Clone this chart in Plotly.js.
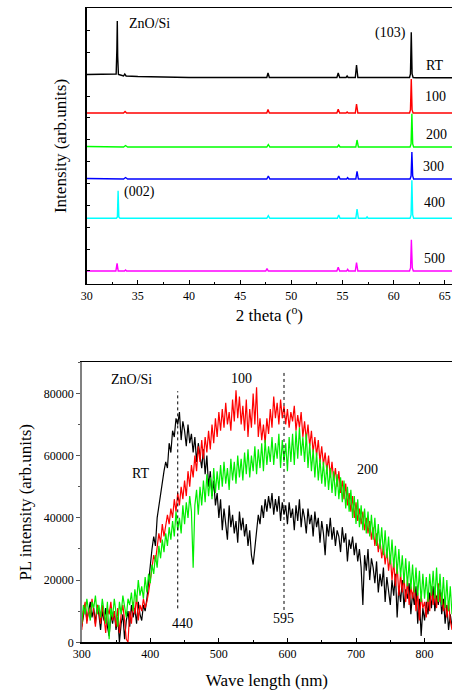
<!DOCTYPE html>
<html>
<head>
<meta charset="utf-8">
<script src="https://cdn.plot.ly/plotly-3.0.1.min.js"></script>
<style>html,body{margin:0;padding:0;background:#fff;}#chart{width:452px;height:693px;}</style>
</head>
<body>
<div id="chart"></div>
<script>
// ---------- Top panel: XRD (offset traces, arbitrary units) ----------
const xrdNames = ["RT", "100", "200", "300", "400", "500"];
const xrdColors = ["#000000", "#ff0000", "#00ff00", "#0000ff", "#00ffff", "#ff00ff"];

const xrdX_RT = [30, 32.0, 32.88, 32.95, 32.99, 33.03, 33.1, 33.3, 33.6, 33.72, 33.85, 35, 40, 47.6, 47.72, 47.85, 54.45, 54.58, 54.72, 55.35, 55.45, 55.55, 56.25, 56.37, 56.5, 61.55, 61.64, 61.72, 61.8, 61.9, 62.2, 65.7];
const xrdY_RT = [209.5, 209.5, 210, 235, 263, 228, 209.5, 209, 208, 210, 208, 207.5, 206.5, 206.5, 211, 206.5, 206.5, 211, 206.5, 206.5, 208, 206.5, 206.5, 219, 206.5, 206.5, 210, 251.7, 210, 206.5, 206.3, 206.3];

const xrdX_100 = [30, 33.6, 33.75, 33.9, 47.6, 47.72, 47.85, 54.45, 54.58, 54.72, 55.35, 55.45, 55.55, 56.25, 56.37, 56.5, 61.55, 61.64, 61.72, 61.8, 61.9, 65.7];
const xrdY_100 = [171, 171, 172.5, 171, 171, 174.5, 171, 171, 174.7, 171, 171, 172, 171, 171, 180, 171, 171, 174, 205, 174, 171, 171];

const xrdX_200 = [30, 33.6, 33.8, 34.0, 47.6, 47.75, 47.9, 54.5, 54.63, 54.76, 56.3, 56.42, 56.55, 61.6, 61.7, 61.78, 61.86, 61.95, 65.7];
const xrdY_200 = [137.5, 137, 138.5, 137, 137, 139.5, 137, 137, 139, 137, 137, 144, 137, 137, 140, 170.3, 140, 137, 137];

const xrdX_300 = [30, 33.6, 33.8, 34.0, 47.6, 47.75, 47.9, 54.5, 54.63, 54.76, 55.4, 55.5, 55.6, 56.3, 56.42, 56.55, 61.6, 61.7, 61.78, 61.86, 61.95, 65.7];
const xrdY_300 = [105.5, 105, 106.5, 105, 105, 108, 105, 105, 108, 105, 105, 106.3, 105, 105, 112.7, 105, 105, 108, 132, 108, 105, 105];

const xrdX_400 = [30, 32.9, 33.0, 33.07, 33.14, 33.25, 47.6, 47.75, 47.9, 54.5, 54.63, 54.76, 56.3, 56.42, 56.55, 57.3, 57.4, 57.5, 61.6, 61.7, 61.78, 61.86, 61.95, 65.7];
const xrdY_400 = [65.7, 65.7, 67, 93.3, 67, 65.7, 65.7, 68.3, 65.7, 65.7, 69, 65.7, 65.7, 75, 65.7, 65.7, 67, 65.7, 65.7, 69, 103.7, 69, 65.7, 65.7];

const xrdX_500 = [30, 32.85, 32.97, 33.08, 33.7, 33.8, 33.9, 47.5, 47.62, 47.75, 54.45, 54.58, 54.72, 55.4, 55.5, 55.6, 56.25, 56.37, 56.5, 61.55, 61.65, 61.73, 61.82, 61.92, 65.7];
const xrdY_500 = [13, 13, 20.7, 13, 13, 14, 13, 13, 15.3, 13, 13, 16.7, 13, 13, 14.7, 13, 13, 21.3, 13, 13, 16, 44.3, 16, 13, 13];

const xrdXs = [xrdX_RT, xrdX_100, xrdX_200, xrdX_300, xrdX_400, xrdX_500];
const xrdYs = [xrdY_RT, xrdY_100, xrdY_200, xrdY_300, xrdY_400, xrdY_500];

// labels of the top panel (text, x, y)
const xrdLabelText = ["ZnO/Si", "(103)", "(002)", "RT", "100", "200", "300", "400", "500"];
const xrdLabelX = [36.13, 59.65, 35.14, 63.97, 64.07, 64.17, 63.85, 63.97, 63.97];
const xrdLabelY = [260, 250.7, 91.7, 218, 187.3, 149.3, 117.3, 81.3, 25.7];

// ---------- Bottom panel: PL spectra ----------
const plNames = ["RT", "100", "200"];
const plColors = ["#000000", "#ff0000", "#00ee00"];
const wavelength = [
  300,302.5,305,307.5,310,312.5,315,317.5,320,322.5,
  325,327.5,330,332.5,335,337.5,340,342.5,345,347.5,
  350,352.5,355,357.5,360,362.5,365,367.5,370,372.5,
  375,377.5,380,382.5,385,387.5,390,392.5,395,397.5,
  400,402.5,405,407.5,410,412.5,415,417.5,420,422.5,
  425,427.5,430,432.5,435,437.5,440,442.5,445,447.5,
  450,452.5,455,457.5,460,462.5,465,467.5,470,472.5,
  475,477.5,480,482.5,485,487.5,490,492.5,495,497.5,
  500,502.5,505,507.5,510,512.5,515,517.5,520,522.5,
  525,527.5,530,532.5,535,537.5,540,542.5,545,547.5,
  550,552.5,555,557.5,560,562.5,565,567.5,570,572.5,
  575,577.5,580,582.5,585,587.5,590,592.5,595,597.5,
  600,602.5,605,607.5,610,612.5,615,617.5,620,622.5,
  625,627.5,630,632.5,635,637.5,640,642.5,645,647.5,
  650,652.5,655,657.5,660,662.5,665,667.5,670,672.5,
  675,677.5,680,682.5,685,687.5,690,692.5,695,697.5,
  700,702.5,705,707.5,710,712.5,715,717.5,720,722.5,
  725,727.5,730,732.5,735,737.5,740,742.5,745,747.5,
  750,752.5,755,757.5,760,762.5,765,767.5,770,772.5,
  775,777.5,780,782.5,785,787.5,790,792.5,795,797.5,
  800,802.5,805,807.5,810,812.5,815,817.5,820,822.5,
  825,827.5,830,832.5,835,837.5,840];
const plRT = [
  5000,9000,12000,7000,10000,13000,8000,11000,6000,12000,
  9000,4000,10000,7000,11000,5000,2000,9000,6000,10000,
  4000,8000,0,6000,9000,1000,7000,10000,5000,12000,
  8000,11000,6000,13000,9000,7000,12000,10000,14000,20000,
  24000,30000,34000,31000,40000,44000,47000,52000,55000,58000,
  56000,64000,61000,68000,66000,72000,70000,74000,65000,71000,
  68000,63000,70000,64000,67000,61000,66000,58000,64000,60000,
  56000,62000,54000,60000,50000,55000,47000,52000,44000,48000,
  40000,46000,36000,43000,38000,33000,44000,37000,41000,35000,
  39000,32000,42000,36000,40000,34000,38000,31000,36000,28000,
  25000,30000,36000,41000,38000,44000,40000,46000,42000,47000,
  43000,48000,41000,46000,42000,47000,39000,45000,41000,44000,
  38000,45000,40000,43000,36000,44000,39000,46000,37000,43000,
  40000,35000,43000,38000,41000,34000,42000,37000,40000,32000,
  39000,35000,28000,38000,34000,40000,33000,37000,31000,36000,
  34000,29000,37000,32000,35000,26000,33000,30000,34000,28000,
  32000,26000,30000,24000,12000,28000,23000,30000,20000,27000,
  24000,19000,26000,16000,22000,18000,24000,13000,21000,17000,
  12000,20000,15000,22000,8000,18000,13000,20000,11000,17000,
  14000,19000,9000,16000,12000,18000,6000,14000,2000,11000,
  7000,13000,9000,16000,11000,18000,10000,15000,12000,17000,
  9000,14000,6000,12000,4000,9000,5000];
const pl100 = [
  4000,10000,13000,6000,11000,8000,14000,9000,5000,12000,
  10000,6000,12000,8000,3000,11000,9000,13000,7000,10000,
  5000,11000,3000,9000,12000,7000,1000,0,10000,6000,
  13000,9000,15000,7000,12000,10000,14000,11000,13000,16000,
  20000,24000,28000,26000,31000,35000,32000,38000,34000,37000,
  41000,38000,43000,40000,46000,42000,48000,44000,50000,46000,
  52000,47000,55000,50000,57000,53000,60000,55000,63000,58000,
  65000,59000,66000,61000,68000,62000,70000,64000,72000,66000,
  74000,68000,75000,69000,77000,70000,74000,68000,78000,71000,
  81000,72000,79000,70000,76000,68000,78000,66000,75000,69000,
  80000,70000,82000,66000,72000,65000,70000,64000,72000,67000,
  75000,69000,79000,72000,77000,70000,78000,72000,76000,70000,
  75000,69000,74000,71000,76000,68000,73000,69000,74000,66000,
  71000,65000,70000,63000,68000,61000,66000,60000,65000,58000,
  63000,57000,61000,55000,60000,53000,58000,52000,56000,50000,
  55000,48000,52000,46000,51000,44000,48000,42000,47000,40000,
  45000,39000,43000,38000,42000,36000,40000,35000,39000,33000,
  37000,31000,35000,29000,33000,27000,31000,25000,30000,23000,
  28000,20000,26000,18000,25000,15000,22000,16000,21000,13000,
  20000,12000,18000,14000,19000,10000,16000,7000,15000,11000,
  13000,8000,16000,10000,18000,12000,17000,11000,19000,13000,
  16000,10000,14000,8000,13000,7000,4000];
const pl200 = [
  6000,12000,9000,14000,10000,7000,13000,11000,15000,9000,
  12000,8000,14000,10000,6000,13000,1000,11000,8000,14000,
  10000,5000,13000,9000,15000,11000,8000,14000,12000,16000,
  10000,17000,13000,20000,15000,18000,14000,21000,16000,22000,
  19000,25000,22000,28000,24000,31000,27000,33000,29000,35000,
  31000,37000,33000,39000,34000,42000,36000,40000,35000,44000,
  38000,45000,40000,47000,42000,24000,44000,49000,41000,50000,
  44000,52000,45000,54000,47000,53000,46000,56000,48000,55000,
  49000,57000,50000,58000,51000,56000,49000,59000,52000,58000,
  51000,60000,53000,59000,52000,61000,54000,62000,53000,60000,
  55000,63000,54000,62000,56000,64000,55000,65000,57000,63000,
  58000,66000,57000,64000,59000,67000,56000,65000,58000,64000,
  55000,66000,58000,67000,57000,68000,59000,69000,60000,66000,
  58000,67000,56000,64000,55000,62000,53000,61000,52000,59000,
  51000,58000,50000,57000,49000,56000,48000,55000,47000,54000,
  46000,53000,45000,52000,43000,50000,42000,49000,40000,47000,
  38000,46000,37000,44000,36000,43000,35000,42000,34000,41000,
  33000,40000,31000,38000,30000,37000,28000,36000,27000,34000,
  25000,33000,24000,31000,22000,30000,21000,28000,19000,27000,
  18000,26000,17000,25000,16000,24000,15000,23000,13000,22000,
  14000,21000,13000,22000,15000,23000,14000,24000,13000,22000,
  12000,21000,11000,20000,10000,18000,9000];
const plYs = [plRT, pl100, pl200];

// dotted guide lines (wavelength, lower and upper intensity)
const guideWl = [440, 595];
const guideLow = [10900, 10400];
const guideHigh = [80700, 87500];

// labels of the bottom panel
const plLabelText = ["ZnO/Si", "100", "RT", "200", "440", "595"];
const plLabelX = [372.9, 533, 386, 717, 446.6, 594];
const plLabelY = [84500, 84800, 54100, 55400, 6100, 7500];

// ---------- Build ----------
const FONT = "Liberation Serif, Times New Roman, serif";
const traces = [];
for (let i = 0; i < xrdNames.length; i++) {
  traces.push({x: xrdXs[i], y: xrdYs[i], type: "scatter", mode: "lines", name: xrdNames[i],
    line: {color: xrdColors[i], width: 1.4}, xaxis: "x", yaxis: "y", hoverinfo: "skip"});
}
for (let i = 0; i < plNames.length; i++) {
  traces.push({x: wavelength, y: plYs[i], type: "scatter", mode: "lines", name: plNames[i],
    line: {color: plColors[i], width: 1.2}, xaxis: "x2", yaxis: "y2", hoverinfo: "skip"});
}
for (let i = 0; i < guideWl.length; i++) {
  traces.push({x: [guideWl[i], guideWl[i]], y: [guideLow[i], guideHigh[i]], type: "scatter", mode: "lines",
    line: {color: "#000000", width: 1, dash: "dot"}, xaxis: "x2", yaxis: "y2", hoverinfo: "skip"});
}

const annotations = [];
for (let i = 0; i < xrdLabelText.length; i++) {
  annotations.push({text: xrdLabelText[i], x: xrdLabelX[i], y: xrdLabelY[i], xref: "x", yref: "y",
    showarrow: false, font: {family: FONT, size: 14, color: "#000"}});
}
for (let i = 0; i < plLabelText.length; i++) {
  annotations.push({text: plLabelText[i], x: plLabelX[i], y: plLabelY[i], xref: "x2", yref: "y2",
    showarrow: false, font: {family: FONT, size: 14, color: "#000"}});
}

const layout = {
  width: 452, height: 693,
  margin: {l: 0, r: 0, t: 0, b: 0},
  paper_bgcolor: "#ffffff", plot_bgcolor: "#ffffff",
  showlegend: false,
  font: {family: FONT, color: "#000"},
  annotations: annotations,
  xaxis: {
    domain: [0.1918, 1], range: [30, 65.7], anchor: "y",
    tickmode: "linear", tick0: 30, dtick: 5, ticks: "inside", ticklen: 4, tickcolor: "#000",
    minor: {dtick: 2.5, ticks: "inside", ticklen: 2, tickcolor: "#000"},
    showline: true, linecolor: "#000", linewidth: 1.3, mirror: true,
    showgrid: false, zeroline: false,
    tickfont: {family: FONT, size: 12, color: "#000"},
    title: {text: "2 theta (<sup>o</sup>)", font: {family: FONT, size: 17, color: "#000"}, standoff: 6}
  },
  yaxis: {
    domain: [0.5902, 0.98846], range: [0, 276], anchor: "x",
    tickmode: "linear", tick0: 13, dtick: 21.87, ticks: "inside", ticklen: 3, tickcolor: "#000",
    showticklabels: false,
    showline: true, linecolor: "#000", linewidth: 1.3, mirror: false,
    showgrid: false, zeroline: false,
    title: {text: "Intensity (arb.units)", font: {family: FONT, size: 17, color: "#000"}, standoff: 14}
  },
  xaxis2: {
    domain: [0.1808, 1], range: [300, 840], anchor: "y2",
    tickmode: "linear", tick0: 300, dtick: 100, ticks: "inside", ticklen: 4, tickcolor: "#000",
    minor: {dtick: 50, ticks: "inside", ticklen: 2, tickcolor: "#000"},
    showline: true, linecolor: "#000", linewidth: 1.3, mirror: true,
    showgrid: false, zeroline: false,
    tickfont: {family: FONT, size: 12, color: "#000"},
    title: {text: "Wave length (nm)", font: {family: FONT, size: 17, color: "#000"}, standoff: 14}
  },
  yaxis2: {
    domain: [0.07316, 0.4772], range: [0, 90000], anchor: "x2",
    tickmode: "linear", tick0: 0, dtick: 20000, ticks: "outside", ticklen: 4, tickcolor: "#555",
    minor: {dtick: 10000, ticks: "outside", ticklen: 2, tickcolor: "#555"},
    tickformat: "d",
    showline: true, linecolor: "#808080", linewidth: 1.5, mirror: false,
    showgrid: false, zeroline: false,
    tickfont: {family: FONT, size: 12, color: "#000"},
    title: {text: "PL intensity (arb.units)", font: {family: FONT, size: 17, color: "#000"}, standoff: 8}
  }
};

Plotly.newPlot("chart", traces, layout, {staticPlot: true, displayModeBar: false});
</script>
</body>
</html>
